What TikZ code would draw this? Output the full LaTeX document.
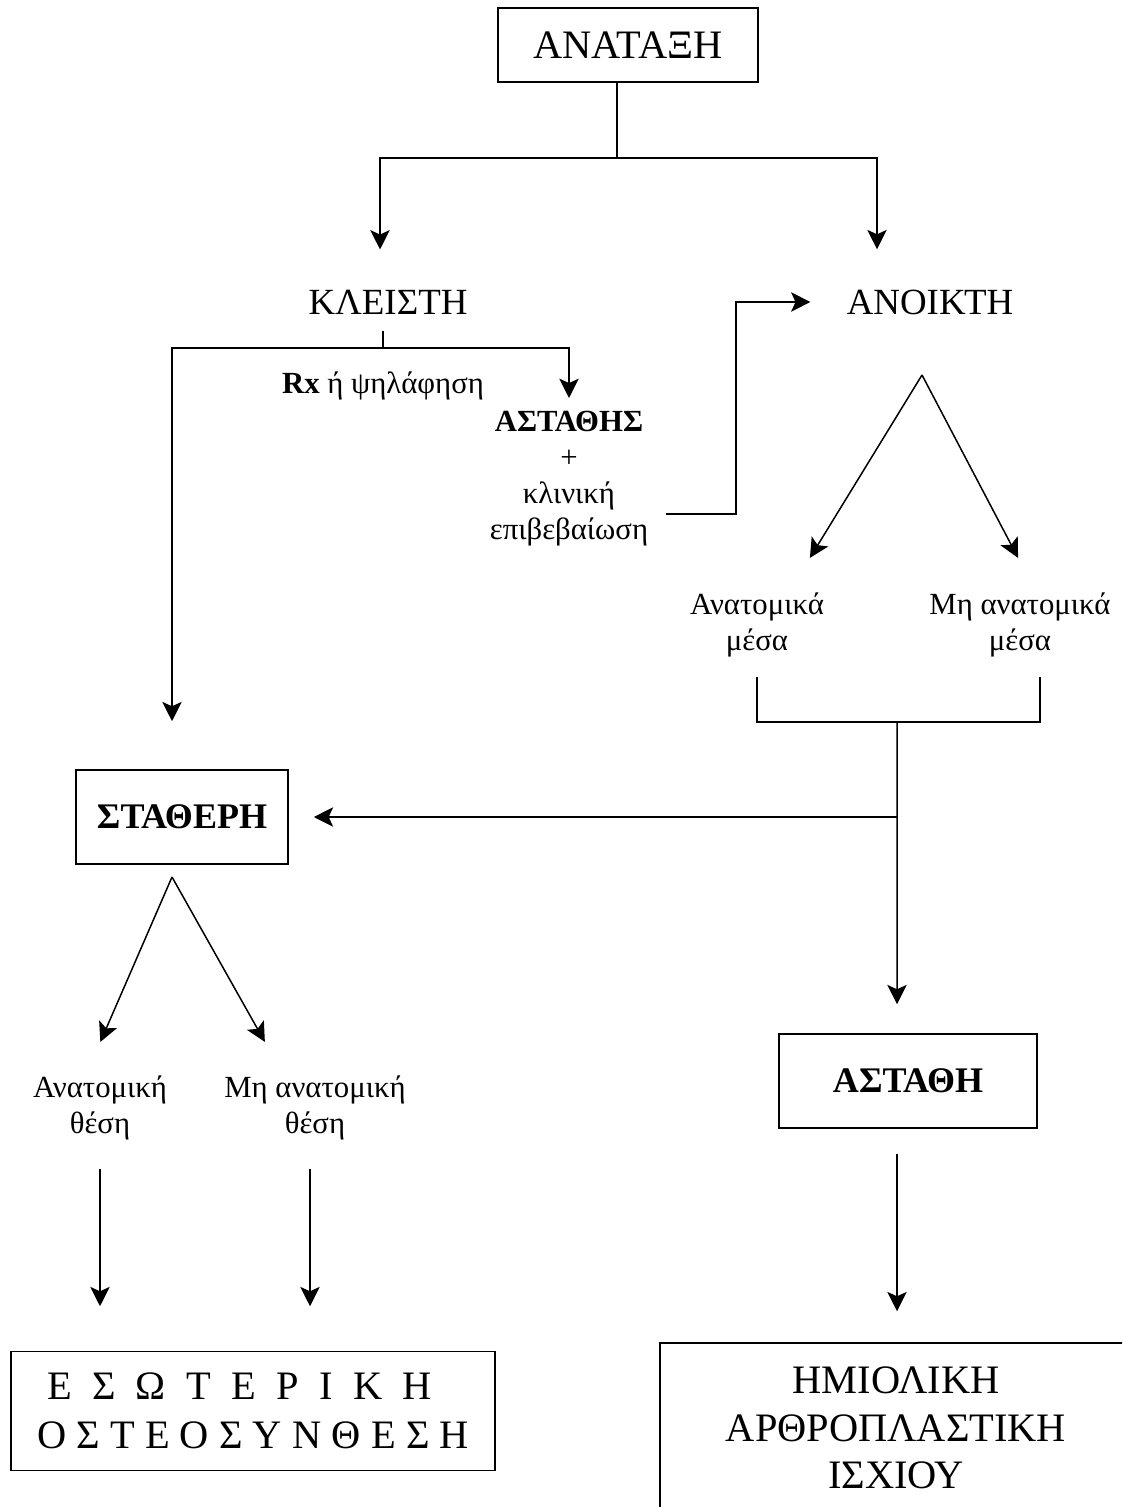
\documentclass[tikz,border=0pt]{standalone}
\usepackage{fontspec}
\setmainfont{Liberation Serif}
\usetikzlibrary{arrows.meta,positioning}

\begin{document}
\begin{tikzpicture}[x=0.02cm, y=-0.02cm,
        box/.style={rectangle, draw, line width=0.9pt, align=center, inner sep=0pt},
        txt/.style={align=center, inner sep=0pt, font=\fontsize{17.5}{20.5}\selectfont},
        title/.style={inner sep=0pt, font=\fontsize{21}{25}\selectfont},
        arrow/.style={-{Stealth[length=11pt, width=11pt, inset=2.5pt]}, line width=0.85pt},
        line/.style={line width=0.85pt}
    ]
        \useasboundingbox (0,0) rectangle (1122,1507);
        \clip (0,0) rectangle (1122,1507);

        % Reduction
        \node[box, minimum width=5.2cm, minimum height=1.48cm, font=\fontsize{23}{27}\selectfont] (anataxi) at (628,45) {ΑΝΑΤΑΞΗ};

        % Closed / open
        \node[title] (kleisti) at (388,302) {ΚΛΕΙΣΤΗ};
        \node[title] (anoikti) at (930,302) {ΑΝΟΙΚΤΗ};

        \node[txt] (rx) at (383,386) {\textbf{Rx} ή ψηλάφηση};
        \node[txt, anchor=north] (astathis) at (569,411) {\textbf{ΑΣΤΑΘΗΣ}\\+\\κλινική\\επιβεβαίωση};

        \node[txt, anchor=north] (anatmesa) at (757,592) {Ανατομικά\\μέσα};
        \node[txt, anchor=north] (mianatmesa) at (1020,592) {Μη ανατομικά\\μέσα};

        % Stable / unstable
        \node[box, minimum width=4.24cm, minimum height=1.88cm, font=\bfseries\fontsize{20.5}{24}\selectfont] (statheri) at (182,817) {ΣΤΑΘΕΡΗ};
        \node[box, minimum width=5.16cm, minimum height=1.88cm, font=\bfseries\fontsize{20.5}{24}\selectfont] (astathi) at (908,1081) {ΑΣΤΑΘΗ};

        \node[txt, anchor=north] (anatthesi) at (100,1075) {Ανατομική\\θέση};
        \node[txt, anchor=north] (mianatthesi) at (315,1075) {Μη ανατομική\\θέση};

        % Treatments
        \node[box, minimum width=9.68cm, minimum height=2.38cm, align=left, font=\fontsize{23}{27.8}\selectfont] (esoteriki) at (253,1411)
            {\hspace*{0.2cm}\makebox[7.7cm][s]{Ε\hfill Σ\hfill Ω\hfill Τ\hfill Ε\hfill Ρ\hfill Ι\hfill Κ\hfill Η}\\
             \makebox[8.64cm][s]{Ο\hfill Σ\hfill Τ\hfill Ε\hfill Ο\hfill Σ\hfill Υ\hfill Ν\hfill Θ\hfill Ε\hfill Σ\hfill Η}};
        \node[box, minimum width=9.44cm, minimum height=3.4cm, font=\fontsize{23}{27}\selectfont] (hmioliki) at (896,1428) {ΗΜΙΟΛΙΚΗ\\ΑΡΘΡΟΠΛΑΣΤΙΚΗ\\ΙΣΧΙΟΥ};

        % Junctions
        \coordinate (split) at (617,158);
        \coordinate (branch) at (383,348);
        \coordinate (bend) at (736,514);
        \coordinate (openfork) at (922,375);
        \coordinate (merge) at (897,722);
        \coordinate (stablefork) at (172,877);

        % Arrows
        \draw[line] (anataxi.south -| split) -- (split);
        \draw[arrow, shorten >=0.8cm] (split) -| ([xshift=-0.16cm]kleisti.north);
        \draw[arrow, shorten >=0.8cm] (split) -| ([xshift=-1.06cm]anoikti.north);

        \draw[line, shorten <=0.32cm] (kleisti.south -| branch) -- (branch);
        \draw[arrow, shorten >=0.26cm] (branch) -| (astathis.north);
        \draw[arrow, shorten >=0.96cm] (branch) -| ([xshift=-0.2cm]statheri.north);
        \draw[arrow, shorten <=0.36cm, shorten >=0.72cm] (astathis.east |- bend) -- (bend) |- (anoikti.west);

        \draw[arrow, shorten >=0.8cm] (openfork) -- ([xshift=0.64cm]anatmesa.north);
        \draw[arrow, shorten >=0.77cm] (openfork) -- ([xshift=0.32cm]mianatmesa.north);
        \draw[line, shorten <=0.4cm, shorten >=0.4cm] (anatmesa.south) |- (merge) -| ([xshift=0.4cm]mianatmesa.south);
        \draw[arrow, shorten >=0.58cm] (merge) -- ([xshift=-0.22cm]astathi.north);
        \draw[arrow, shorten >=0.5cm] (merge |- statheri.east) -- (statheri.east);

        \draw[arrow, shorten >=0.72cm] (stablefork) -- ([xshift=-0.28cm]anatthesi.north);
        \draw[arrow, shorten >=0.76cm] (stablefork) -- ([xshift=-0.63cm]mianatthesi.north);
        \draw[arrow, shorten <=0.58cm, shorten >=0.89cm] (anatthesi.south) -- (anatthesi.south |- esoteriki.north);
        \draw[arrow, shorten <=0.58cm, shorten >=0.89cm] ([xshift=-0.1cm]mianatthesi.south) -- ([xshift=-0.1cm]mianatthesi.south |- esoteriki.north);
        \draw[arrow, shorten <=0.5cm, shorten >=0.62cm] ([xshift=-0.22cm]astathi.south) -- ([xshift=-0.22cm]astathi.south |- hmioliki.north);
    \end{tikzpicture}
\end{document}
